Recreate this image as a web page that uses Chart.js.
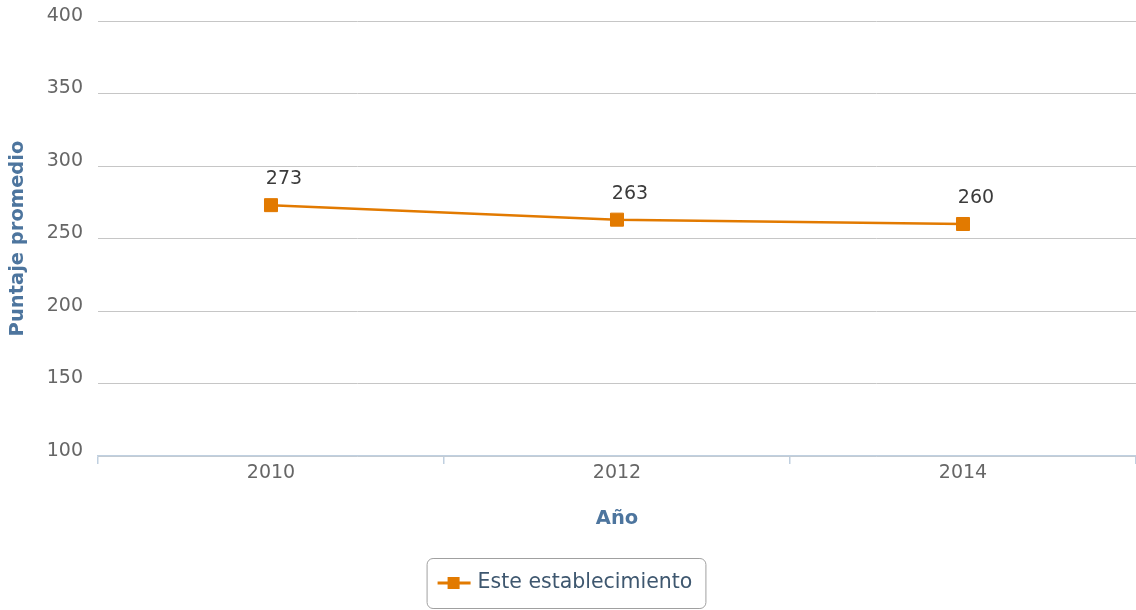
<!DOCTYPE html>
<html>
<head>
<meta charset="utf-8">
<script src="https://cdn.jsdelivr.net/npm/chart.js@4.4.1/dist/chart.umd.min.js"></script>
<style>
  html, body { margin: 0; padding: 0; background: #ffffff; overflow: hidden; }
  canvas { display: block; }
</style>
</head>
<body>
<canvas id="scoreChart" width="1136" height="610"></canvas>
<script>
// Chart data
const years = ['2010', '2012', '2014'];
const scores = [273, 263, 260];
const seriesName = 'Este establecimiento';
const yTicks = [100, 150, 200, 250, 300, 350, 400];

const FONT = "'DejaVu Sans', Verdana, sans-serif";
const orange = '#e27a00';
const titleColor = '#4d759e';

// Draws the value above each point
const valueLabels = {
  id: 'valueLabels',
  afterDatasetsDraw(chart) {
    const ctx = chart.ctx;
    const meta = chart.getDatasetMeta(0);
    ctx.save();
    ctx.font = '19px ' + FONT;
    ctx.fillStyle = '#3b3b3b';
    ctx.textAlign = 'center';
    ctx.textBaseline = 'middle';
    meta.data.forEach((pt, i) => {
      ctx.fillText(String(chart.data.datasets[0].data[i]), pt.x + 13, pt.y - 26);
    });
    ctx.restore();
  }
};

// Legend in a rounded box under the chart
const boxLegend = {
  id: 'boxLegend',
  afterDraw(chart) {
    const ctx = chart.ctx;
    const ds = chart.data.datasets[0];
    ctx.save();
    ctx.font = '20.5px ' + FONT;
    const textW = ctx.measureText(ds.label).width;
    const w = textW + 64;
    const h = 50;
    const x = chart.width / 2 - w / 2 - 2;
    const y = chart.height - h - 2;
    ctx.beginPath();
    ctx.roundRect(x + 0.5, y + 0.5, w, h, 6);
    ctx.strokeStyle = '#a0a0a0';
    ctx.lineWidth = 1;
    ctx.stroke();
    const cy = y + h / 2;
    ctx.strokeStyle = ds.borderColor;
    ctx.lineWidth = 3;
    ctx.beginPath();
    ctx.moveTo(x + 11, cy);
    ctx.lineTo(x + 44, cy);
    ctx.stroke();
    ctx.fillStyle = ds.borderColor;
    ctx.fillRect(x + 21, cy - 6, 12, 12);
    ctx.fillStyle = '#3e576f';
    ctx.textAlign = 'left';
    ctx.textBaseline = 'middle';
    ctx.fillText(ds.label, x + 51, cy);
    ctx.restore();
  }
};

new Chart(document.getElementById('scoreChart'), {
  type: 'line',
  data: {
    labels: years,
    datasets: [{
      label: seriesName,
      data: scores,
      borderColor: orange,
      backgroundColor: orange,
      borderWidth: 2.5,
      pointStyle: 'rect',
      pointRadius: 9.2,
      pointHoverRadius: 9.2,
      pointBorderWidth: 1,
      tension: 0
    }]
  },
  options: {
    responsive: false,
    animation: false,
    layout: { autoPadding: false, padding: { top: 21, left: 0, right: 0, bottom: 66 } },
    scales: {
      x: {
        offset: true,
        afterFit(axis) {
          axis.height = 88;
          axis.paddingLeft = 0;
          axis.paddingRight = 0;
        },
        grid: {
          offset: true,
          drawOnChartArea: false,
          color: '#c0d0e0',
          lineWidth: 1.5,
          tickLength: 8,
          tickColor: '#c0d0e0'
        },
        border: { color: '#c0d0e0', width: 1.5 },
        ticks: {
          color: '#666666',
          padding: -2,
          font: { family: FONT, size: 19 }
        },
        title: {
          display: true,
          text: 'Año',
          color: titleColor,
          padding: { top: 0, bottom: 13 },
          font: { family: FONT, size: 19.5, weight: 'bold' }
        }
      },
      y: {
        min: 100,
        max: 400,
        afterBuildTicks(axis) { axis.ticks = yTicks.map(v => ({ value: v })); },
        afterFit(axis) {
          axis.width = 98;
          axis.paddingTop = 0;
          axis.paddingBottom = 0;
        },
        grid: { color: '#c6c6c6', drawTicks: false, lineWidth: 1 },
        border: { display: false },
        ticks: {
          color: '#666666',
          padding: 15,
          labelOffset: -5,
          font: { family: FONT, size: 19 }
        },
        title: {
          display: true,
          text: 'Puntaje promedio',
          color: titleColor,
          padding: { top: 6, bottom: 0 },
          font: { family: FONT, size: 19.5, weight: 'bold' }
        }
      }
    },
    plugins: {
      legend: { display: false },
      tooltip: { enabled: false }
    }
  },
  plugins: [valueLabels, boxLegend]
});
</script>
</body>
</html>
